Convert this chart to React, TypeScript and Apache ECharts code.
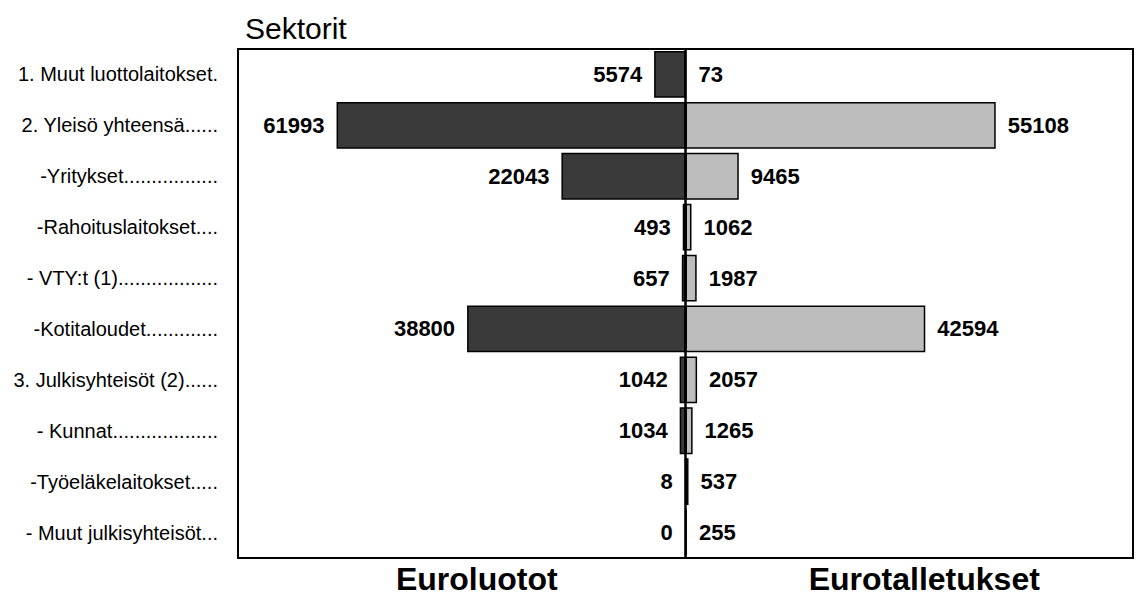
import React, { useEffect, useRef } from "react";
import * as echarts from "echarts";

const categories = [
  "1. Muut luottolaitokset.",
  "2. Yleisö yhteensä......",
  "-Yritykset.................",
  "-Rahoituslaitokset....",
  "- VTY:t (1)..................",
  "-Kotitaloudet.............",
  "3. Julkisyhteisöt (2)......",
  "- Kunnat...................",
  "-Työeläkelaitokset.....",
  "- Muut julkisyhteisöt...",
];
const euroluotot = [5574, 61993, 22043, 493, 657, 38800, 1042, 1034, 8, 0];
const eurotalletukset = [73, 55108, 9465, 1062, 1987, 42594, 2057, 1265, 537, 255];
const leftTitle = "Euroluotot";
const rightTitle = "Eurotalletukset";
const mainTitle = "Sektorit";

const FONT = "'Liberation Sans', Arial, Helvetica, sans-serif";

export default function App() {
  const ref = useRef<HTMLDivElement>(null);
  useEffect(() => {
    if (!ref.current) return;
    const chart = echarts.init(ref.current, null, { renderer: "svg" });
    const gridLeft = 238;
    const gridRight = 7;
    const plotW = 1140 - gridLeft - gridRight;
    const center = gridLeft + plotW / 2;
    chart.setOption({
      animation: false,
      backgroundColor: "#ffffff",
      textStyle: { fontFamily: FONT },
      title: {
        text: mainTitle,
        left: 240,
        top: 8,
        textStyle: { fontFamily: FONT, fontSize: 30, fontWeight: "normal", color: "#000" },
      },
      grid: {
        left: gridLeft,
        right: gridRight,
        top: 49,
        bottom: 39,
        show: true,
        borderColor: "#000",
        borderWidth: 2,
        backgroundColor: "transparent",
      },
      xAxis: {
        type: "value",
        min: -79500,
        max: 79500,
        show: false,
        splitLine: { show: false },
      },
      yAxis: {
        type: "category",
        data: categories,
        inverse: true,
        axisLine: { show: false },
        axisTick: { show: false },
        axisLabel: {
          margin: 20,
          fontSize: 20,
          color: "#000",
          fontFamily: FONT,
          align: "right",
        },
      },
      series: [
        {
          name: leftTitle,
          type: "bar",
          stack: "all",
          barCategoryGap: "8%",
          data: euroluotot.map((v) => -v),
          itemStyle: { color: "#3a3a3a", borderColor: "#000", borderWidth: 1.5 },
          label: {
            show: true,
            position: "left",
            distance: 12,
            formatter: (p: any) => String(Math.abs(p.value)),
            fontSize: 22,
            fontWeight: "bold",
            color: "#000",
            fontFamily: FONT,
          },
          markLine: {
            silent: true,
            symbol: "none",
            label: { show: false },
            lineStyle: { color: "#000", width: 2.5, type: "solid" },
            data: [{ xAxis: 0 }],
          },
        },
        {
          name: rightTitle,
          type: "bar",
          stack: "all",
          barCategoryGap: "8%",
          data: eurotalletukset,
          itemStyle: { color: "#bdbdbd", borderColor: "#000", borderWidth: 1.5 },
          label: {
            show: true,
            position: "right",
            distance: 12,
            fontSize: 22,
            fontWeight: "bold",
            color: "#000",
            fontFamily: FONT,
          },
        },
      ],
      graphic: [
        {
          type: "text",
          x: (gridLeft + center) / 2 + 15,
          y: 579,
          style: {
            text: leftTitle,
            fontSize: 32,
            fontWeight: "bold",
            fontFamily: FONT,
            fill: "#000",
            textAlign: "center",
            textVerticalAlign: "middle",
          },
        },
        {
          type: "text",
          x: (center + 1140 - gridRight) / 2 + 15,
          y: 579,
          style: {
            text: rightTitle,
            fontSize: 32,
            fontWeight: "bold",
            fontFamily: FONT,
            fill: "#000",
            textAlign: "center",
            textVerticalAlign: "middle",
          },
        },
      ],
    });
    return () => chart.dispose();
  }, []);
  return (
    <div
      ref={ref}
      style={{ position: "absolute", left: 0, top: 0, width: 1140, height: 597 }}
    />
  );
}
